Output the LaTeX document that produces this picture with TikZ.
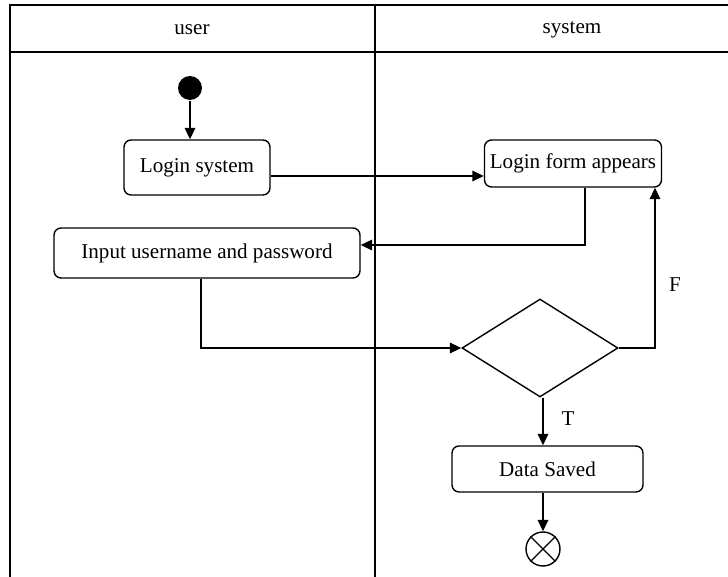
\documentclass[tikz,border=0pt]{standalone}
\usepackage{fontspec}
\setmainfont{Liberation Serif}
\usetikzlibrary{arrows.meta,shapes.geometric}
\begin{document}
\begin{tikzpicture}[x=0.02cm, y=-0.02cm, line width=0.8pt,
  font=\fontsize{12}{14}\selectfont,
  action/.style={draw, rounded corners=4pt, inner sep=0pt},
  flow/.style={-{Triangle[length=6.5pt,width=6pt]}}]
  \useasboundingbox (0,0) rectangle (728,577);

  % Swimlanes
  \draw (728,5) -- (10,5) -- (10,577);
  \draw (10,52) -- (728,52);
  \draw (375,5) -- (375,577);
  \node (userlane) at (192,30) {user};
  \node (syslane) at (572,30) {system};

  % Activities
  \node[circle, fill, minimum size=0.48cm, inner sep=0pt] (start) at (190,88) {};
  \node[action, minimum width=2.92cm, minimum height=1.1cm] (login) at (197,167.5) {Login system};
  \node[action, minimum width=3.54cm, minimum height=0.94cm] (form) at (573,163.5) {Login form appears};
  \node[action, minimum width=6.12cm, minimum height=1.0cm] (input) at (207,253) {Input username and password};
  \node[draw, diamond, minimum width=3.12cm, minimum height=1.96cm, inner sep=0pt] (check) at (540,348) {};
  \node[action, minimum width=3.82cm, minimum height=0.92cm] (saved) at (547.5,469) {Data Saved};
  \node[draw, circle, minimum size=0.68cm, inner sep=0pt] (stop) at (543,549) {};
  \draw (stop.45) -- (stop.225) (stop.135) -- (stop.-45);

  % Flows
  \draw[flow] (start) -- (start |- login.north);
  \draw[flow] (login.east |- 0,176) -- (form.west |- 0,176);
  \draw[flow] (form.south -| 585,0) |- (input.east |- 0,245);
  \draw[flow] (input.south -| 201,0) |- (check.west);
  \draw[flow] (check.east) -| (form.south -| 655,0);
  \draw[flow] (check.south -| 543,0) -- (saved.north -| 543,0);
  \draw[flow] (saved.south -| 543,0) -- (stop);

  % Guards
  \node (guardF) at (675,285) {F};
  \node (guardT) at (568,419) {T};
\end{tikzpicture}
\end{document}
